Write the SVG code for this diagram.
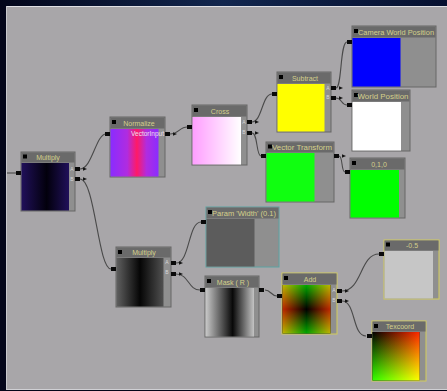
<svg xmlns="http://www.w3.org/2000/svg" width="447" height="391" viewBox="0 0 447 391">
<defs>
<linearGradient id="bgTop" x1="0" y1="0" x2="1" y2="0">
<stop offset="0" stop-color="#03061a"/><stop offset="0.5" stop-color="#12264e"/><stop offset="1" stop-color="#061030"/>
</linearGradient>
<linearGradient id="gMul1" x1="0" y1="0" x2="1" y2="0">
<stop offset="0" stop-color="#20105a"/><stop offset="0.53" stop-color="#02000c"/><stop offset="1" stop-color="#20105a"/>
</linearGradient>
<linearGradient id="gNorm" x1="0" y1="0" x2="1" y2="0">
<stop offset="0" stop-color="#8a2cff"/><stop offset="0.35" stop-color="#b02ce0"/><stop offset="0.55" stop-color="#ff1a66"/><stop offset="0.75" stop-color="#b02ce0"/><stop offset="1" stop-color="#8a2cff"/>
</linearGradient>
<linearGradient id="gCross" x1="0" y1="0" x2="1" y2="0">
<stop offset="0" stop-color="#ff9eff"/><stop offset="1" stop-color="#ffffff"/>
</linearGradient>
<linearGradient id="gMul2" x1="0" y1="0" x2="1" y2="0">
<stop offset="0" stop-color="#606060"/><stop offset="0.5" stop-color="#050505"/><stop offset="1" stop-color="#505050"/>
</linearGradient>
<linearGradient id="gMask" x1="0" y1="0" x2="1" y2="0">
<stop offset="0" stop-color="#cacaca"/><stop offset="0.56" stop-color="#080808"/><stop offset="1" stop-color="#c4c4c4"/>
</linearGradient>
<linearGradient id="gAddR" x1="0" y1="0" x2="1" y2="0">
<stop offset="0" stop-color="#c02800"/><stop offset="0.5" stop-color="#000000"/><stop offset="1" stop-color="#c02800"/>
</linearGradient>
<linearGradient id="gAddG" x1="0" y1="0" x2="0" y2="1">
<stop offset="0" stop-color="#00a800"/><stop offset="0.5" stop-color="#000000"/><stop offset="1" stop-color="#00a800"/>
</linearGradient>
<linearGradient id="gTexR" x1="0" y1="0" x2="1" y2="0">
<stop offset="0" stop-color="#000000"/><stop offset="1" stop-color="#ff2800"/>
</linearGradient>
<linearGradient id="gTexG" x1="0" y1="0" x2="0" y2="1">
<stop offset="0" stop-color="#000000"/><stop offset="1" stop-color="#30ff00"/>
</linearGradient>
<marker id="arr" markerWidth="5" markerHeight="5" refX="-3" refY="2" orient="auto" markerUnits="userSpaceOnUse">
<path d="M0,0.3 L4,2 L0,3.7 Z" fill="#151515"/>
</marker>
<style>
.node{fill:#8f8f8f;stroke:#666;stroke-width:1}
.teal{stroke:#5aa2a2}
.yel{stroke:#d2cc5a}
.hdr{fill:#6a6a6a}
.ico{fill:#000}
.pin{fill:#0a0a0a}
.title{font-family:"Liberation Sans",Arial,sans-serif;font-size:7px;fill:#d4d08a;text-anchor:middle}
.pl{font-family:"Liberation Sans",Arial,sans-serif;font-size:5px;fill:#d8d8d8;text-anchor:middle}
.wire{fill:none;stroke:#4a4a4a;stroke-width:1.1}
.wa{marker-start:url(#arr)}
</style>
</defs>

<rect x="0" y="0" width="447" height="391" fill="#04061a"/>
<rect x="0" y="0" width="447" height="6" fill="url(#bgTop)"/>
<rect x="6" y="6" width="441" height="383" fill="#a8a6a9"/>
<line x1="6" y1="6.5" x2="447" y2="6.5" stroke="#e0e0e4" stroke-width="1"/>
<line x1="6.5" y1="6" x2="6.5" y2="389" stroke="#c8c8cc" stroke-width="1"/>
<line x1="6" y1="389.5" x2="447" y2="389.5" stroke="#d0d0d4" stroke-width="1"/>

<g id="connectors">
<path class="wire" d="M7,173 L16,173"/>
<path class="wire wa" d="M80,169 C92,169 96,134 106,134"/>
<path class="wire wa" d="M80,179 C95,179 98,269 111,269"/>
<path class="wire wa" d="M170,134 C178,134 180,127 187,127"/>
<path class="wire wa" d="M252,122 C262,122 262,94 272,94"/>
<path class="wire wa" d="M252,133 C258,133 256,156 261,156"/>
<path class="wire wa" d="M336,88 C342,88 340,42 347,42"/>
<path class="wire wa" d="M336,98 C342,98 341,105 347,105"/>
<path class="wire wa" d="M339,156 C343,156 341,172 345,172"/>
<path class="wire wa" d="M176,263 C190,263 188,222 201,222"/>
<path class="wire wa" d="M176,274 C189,274 188,290 200,290"/>
<path class="wire" d="M265,290 C271,290 271,296 277,296"/>
<path class="wire wa" d="M342,291 C362,291 360,254 379,254"/>
<path class="wire wa" d="M342,301 C356,301 352,336 366,336"/>
</g>

<g id="node-multiply1">
<rect class="node" x="21" y="152" width="54" height="59"/>
<rect class="hdr" x="21.5" y="152.5" width="53" height="10"/>
<rect class="ico" x="23" y="154.5" width="4" height="4"/>
<text class="title" x="48" y="160">Multiply</text>
<rect x="21.5" y="163" width="47.5" height="47.5" fill="url(#gMul1)"/>
<text class="pl" x="72" y="171">A</text><text class="pl" x="72" y="181">B</text>
<rect class="pin" x="16" y="171" width="5" height="4"/>
<rect class="pin" x="75" y="167" width="5" height="4"/>
<rect class="pin" x="75" y="177" width="5" height="4"/>
</g>

<g id="node-normalize">
<rect class="node" x="110" y="117" width="55" height="60"/>
<rect class="hdr" x="110.5" y="117.5" width="54" height="11"/>
<rect class="ico" x="112" y="120" width="4" height="4"/>
<text class="title" x="139" y="126">Normalize</text>
<rect x="110.5" y="129" width="48" height="47.5" fill="url(#gNorm)"/>
<text x="164" y="136" font-family="Liberation Sans, Arial, sans-serif" font-size="6.5" fill="#eee0f0" text-anchor="end">VectorInput</text>
<rect class="pin" x="105" y="132" width="5" height="4"/>
<rect class="pin" x="165" y="132" width="5" height="4"/>
</g>

<g id="node-cross">
<rect class="node" x="192" y="105" width="55" height="60"/>
<rect class="hdr" x="192.5" y="105.5" width="54" height="11"/>
<rect class="ico" x="194" y="108" width="4" height="4"/>
<text class="title" x="220" y="114">Cross</text>
<rect x="192.5" y="117" width="48.5" height="47.5" fill="url(#gCross)"/>
<text class="pl" x="244" y="124">A</text><text class="pl" x="244" y="134">B</text>
<rect class="pin" x="187" y="125" width="5" height="4"/>
<rect class="pin" x="247" y="120" width="5" height="4"/>
<rect class="pin" x="247" y="131" width="5" height="4"/>
</g>

<g id="node-subtract">
<rect class="node" x="277" y="72" width="54" height="60"/>
<rect class="hdr" x="277.5" y="72.5" width="53" height="11"/>
<rect class="ico" x="279" y="75" width="4" height="4"/>
<text class="title" x="305" y="81">Subtract</text>
<rect x="277.5" y="84" width="47" height="47.5" fill="#ffff00"/>
<text class="pl" x="328" y="90">A</text><text class="pl" x="328" y="99">B</text>
<rect class="pin" x="272" y="92" width="5" height="4"/>
<rect class="pin" x="331" y="86" width="5" height="4"/>
<rect class="pin" x="331" y="96" width="5" height="4"/>
</g>

<g id="node-camera-world-position">
<rect class="node" x="352" y="26" width="84" height="61"/>
<rect class="hdr" x="352.5" y="26.5" width="83" height="11"/>
<rect class="ico" x="354" y="29" width="4" height="4"/>
<text class="title" x="396" y="35" textLength="76" lengthAdjust="spacingAndGlyphs">Camera World Position</text>
<rect x="352.5" y="38" width="48" height="48.5" fill="#0000ff"/>
<rect class="pin" x="347" y="40" width="5" height="4"/>
</g>

<g id="node-world-position">
<rect class="node" x="352" y="90" width="58" height="61"/>
<rect class="hdr" x="352.5" y="90.5" width="57" height="11"/>
<rect class="ico" x="354" y="93" width="4" height="4"/>
<text class="title" x="383" y="99" textLength="51" lengthAdjust="spacingAndGlyphs">World Position</text>
<rect x="352.5" y="102" width="48.5" height="48.5" fill="#ffffff"/>
<rect class="pin" x="347" y="103" width="5" height="4"/>
</g>

<g id="node-vector-transform">
<rect class="node" x="266" y="142" width="68" height="60"/>
<rect class="hdr" x="266.5" y="142.5" width="67" height="10"/>
<rect class="ico" x="268" y="144.5" width="4" height="4"/>
<text class="title" x="302" y="150" textLength="60" lengthAdjust="spacingAndGlyphs">Vector Transform</text>
<rect x="266.5" y="153" width="48" height="48.5" fill="#10ff10"/>
<rect class="pin" x="261" y="154" width="5" height="4"/>
<rect class="pin" x="334" y="154" width="5" height="4"/>
</g>

<g id="node-010">
<rect class="node" x="350" y="158" width="55" height="60"/>
<rect class="hdr" x="350.5" y="158.5" width="54" height="11"/>
<rect class="ico" x="352" y="161" width="4" height="4"/>
<text class="title" x="379" y="167">0,1,0</text>
<rect x="350.5" y="170" width="48.5" height="47.5" fill="#00ff00"/>
<rect class="pin" x="345" y="170" width="5" height="4"/>
</g>

<g id="node-multiply2">
<rect class="node" x="116" y="247" width="55" height="60"/>
<rect class="hdr" x="116.5" y="247.5" width="54" height="10"/>
<rect class="ico" x="118" y="250" width="4" height="4"/>
<text class="title" x="144" y="255">Multiply</text>
<rect x="116.5" y="258" width="47" height="48.5" fill="url(#gMul2)"/>
<text class="pl" x="167" y="264">A</text><text class="pl" x="167" y="274">B</text>
<rect class="pin" x="111" y="267" width="5" height="4"/>
<rect class="pin" x="171" y="261" width="5" height="4"/>
<rect class="pin" x="171" y="272" width="5" height="4"/>
</g>

<g id="node-param-width">
<rect class="node teal" x="206" y="207" width="73" height="60"/>
<rect class="hdr" x="206.5" y="207.5" width="72" height="11"/>
<rect class="ico" x="208" y="210" width="4" height="4"/>
<text class="title" x="244" y="216" textLength="64" lengthAdjust="spacingAndGlyphs">Param 'Width' (0.1)</text>
<rect x="206.5" y="219" width="48" height="47.5" fill="#5c5c5c"/>
<rect class="pin" x="201" y="220" width="5" height="4"/>
</g>

<g id="node-mask">
<rect class="node" x="205" y="276" width="54" height="61"/>
<rect class="hdr" x="205.5" y="276.5" width="53" height="11"/>
<rect class="ico" x="207" y="279" width="4" height="4"/>
<text class="title" x="233" y="285">Mask ( R )</text>
<rect x="205.5" y="288" width="48.5" height="48.5" fill="url(#gMask)"/>
<rect class="pin" x="200" y="288" width="5" height="4"/>
<rect class="pin" x="259" y="288" width="5" height="4"/>
</g>

<g id="node-add">
<rect class="node yel" x="282" y="273" width="55" height="61"/>
<rect class="hdr" x="282.5" y="273.5" width="54" height="11"/>
<rect class="ico" x="284" y="276" width="4" height="4"/>
<text class="title" x="310" y="282">Add</text>
<g style="isolation:isolate">
<rect x="282.5" y="285" width="48" height="48.5" fill="url(#gAddR)"/>
<rect x="282.5" y="285" width="48" height="48.5" fill="url(#gAddG)" style="mix-blend-mode:screen"/>
</g>
<text class="pl" x="334" y="292">A</text><text class="pl" x="334" y="302">B</text>
<rect class="pin" x="277" y="294" width="5" height="4"/>
<rect class="pin" x="337" y="289" width="5" height="4"/>
<rect class="pin" x="337" y="299" width="5" height="4"/>
</g>

<g id="node-minus-half">
<rect class="node yel" x="384" y="240" width="55" height="59"/>
<rect class="hdr" x="384.5" y="240.5" width="54" height="10"/>
<rect class="ico" x="386" y="242.5" width="4" height="4"/>
<text class="title" x="412" y="248">-0.5</text>
<rect x="384.5" y="251" width="48.5" height="47.5" fill="#c6c6c6"/>
<rect class="pin" x="379" y="252" width="5" height="4"/>
</g>

<g id="node-texcoord">
<rect class="node yel" x="372" y="321" width="54" height="60"/>
<rect class="hdr" x="372.5" y="321.5" width="53" height="10"/>
<rect class="ico" x="374" y="324" width="4" height="4"/>
<text class="title" x="400" y="329">Texcoord</text>
<g style="isolation:isolate">
<rect x="372.5" y="332" width="47" height="48.5" fill="url(#gTexR)"/>
<rect x="372.5" y="332" width="47" height="48.5" fill="url(#gTexG)" style="mix-blend-mode:screen"/>
</g>
<rect class="pin" x="367" y="334" width="5" height="4"/>
</g>
</svg>
